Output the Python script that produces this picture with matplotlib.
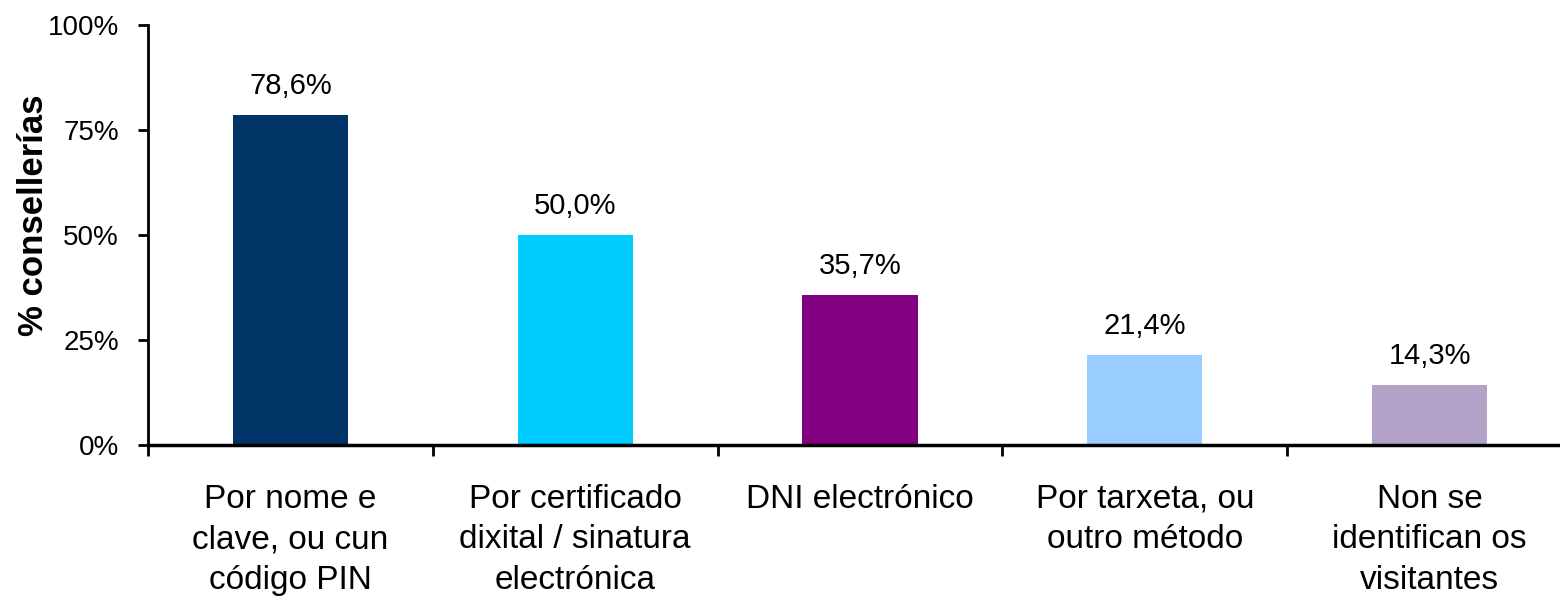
import numpy as np
import matplotlib
matplotlib.use("Agg")
from matplotlib import pyplot as plt
from matplotlib.ticker import FuncFormatter

plt.rcParams["font.family"] = ["Liberation Sans", "DejaVu Sans"]

categories = [
    "Por nome e\nclave, ou cun\ncódigo PIN",
    "Por certificado\ndixital / sinatura\nelectrónica",
    "DNI electrónico",
    "Por tarxeta, ou\noutro método",
    "Non se\nidentifican os\nvisitantes",
]
values = [78.6, 50.0, 35.7, 21.4, 14.3]
colours = ["#003366", "#00CCFF", "#800080", "#99CCFF", "#B3A2C7"]

fig = plt.figure(figsize=(15.6, 6.01), dpi=100)
# axes run a little past the right edge, as in the original
ax = fig.add_axes([148 / 1560, 1 - 445 / 601, 1424 / 1560, 420 / 601])

x = np.arange(len(categories))
bars = ax.bar(x, values, width=0.404, color=colours)

for b, v in zip(bars, values):
    ax.annotate(f"{v:.1f}%".replace(".", ","),
                (b.get_x() + b.get_width() / 2, v),
                xytext=(0, 11), textcoords="offset points",
                ha="center", va="bottom", fontsize=21)

ax.set_xlim(-0.5, len(categories) - 0.5)
ax.set_ylim(0, 100)
ax.set_yticks([0, 25, 50, 75, 100])
ax.yaxis.set_major_formatter(FuncFormatter(lambda v, p: f"{v:.0f}%"))
ax.tick_params(axis="y", labelsize=20, width=2, length=7, direction="out", pad=14)

# category ticks sit between bars, labels under bar centres
ax.set_xticks(np.arange(len(categories) + 1) - 0.5)
ax.set_xticklabels([])
ax.set_xticks(x, minor=True)
ax.set_xticklabels(categories, minor=True, fontsize=24, linespacing=1.4)
ax.tick_params(axis="x", which="major", width=2, length=8, direction="out")
ax.tick_params(axis="x", which="minor", length=0, pad=28)

ax.set_ylabel("% consellerías", fontsize=25, fontweight="bold")
ax.yaxis.set_label_coords(-0.069, 0.548)

for side in ["top", "right"]:
    ax.spines[side].set_visible(False)
ax.spines["left"].set_linewidth(2)
ax.spines["bottom"].set_linewidth(2.5)

fig.savefig("out.png", dpi=100)
